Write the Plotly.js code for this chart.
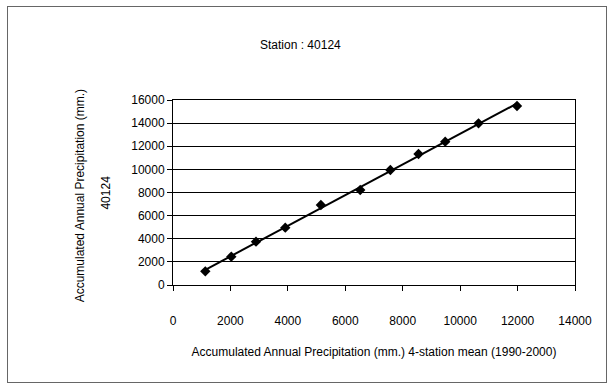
<!DOCTYPE html>
<html><head><meta charset="utf-8">
<script src="https://cdn.plot.ly/plotly-3.0.1.min.js"></script>
<style>html,body{margin:0;padding:0;background:#fff}#wrap{position:relative;width:613px;height:387px}
#frame{position:absolute;left:7px;top:6px;width:598px;height:375px;border:1px solid #666;pointer-events:none}</style>
</head><body><div id="wrap"><div id="chart" style="width:613px;height:387px"></div><div id="frame"></div></div>
<script>
const meanPrecip = [1125, 2030, 2890, 3910, 5150, 6520, 7570, 8550, 9480, 10640, 11980];
const stationPrecip = [1180, 2450, 3750, 4960, 6920, 8220, 9950, 11330, 12400, 13980, 15480];
const xTicks = [0, 2000, 4000, 6000, 8000, 10000, 12000, 14000];
const yTicks = [0, 2000, 4000, 6000, 8000, 10000, 12000, 14000, 16000];

// linear trend line from the data
const n = meanPrecip.length;
const mx = meanPrecip.reduce((a,b)=>a+b,0)/n, my = stationPrecip.reduce((a,b)=>a+b,0)/n;
let sxy=0, sxx=0;
for (let i=0;i<n;i++){sxy+=(meanPrecip[i]-mx)*(stationPrecip[i]-my);sxx+=(meanPrecip[i]-mx)**2;}
const slope=sxy/sxx, icpt=my-slope*mx;
const trendX=[Math.min(...meanPrecip), Math.max(...meanPrecip)];
const trendY=trendX.map(v=>icpt+slope*v);

const font = {family:'Liberation Sans, Arial, sans-serif', size:12, color:'#000'};
const data = [
  {x:trendX, y:trendY, mode:'lines', line:{color:'#000', width:2}, hoverinfo:'skip'},
  {x:meanPrecip, y:stationPrecip, mode:'markers', marker:{symbol:'diamond', size:8, color:'#000'}}
];
const layout = {
  width:613, height:387, showlegend:false, font:font,
  paper_bgcolor:'#fff', plot_bgcolor:'#fff',
  margin:{l:173, r:38, t:100, b:102},
  title:{text:'Station : 40124', x:0.49, xanchor:'center', y:0.884, yanchor:'middle', font:font},
  xaxis:{range:[0,14000], tickvals:xTicks, ticktext:xTicks.map(String), showgrid:false, zeroline:false,
    showline:true, linecolor:'#000', linewidth:1, mirror:true, ticks:'outside', ticklen:5, tickcolor:'#000',
    ticklabelstandoff:20, tickfont:font,
    title:{text:'Accumulated Annual Precipitation (mm.) 4-station mean (1990-2000)', font:font, standoff:20}},
  yaxis:{range:[0,16000], tickvals:yTicks, ticktext:yTicks.map(String), showgrid:true, gridcolor:'#000', gridwidth:1,
    zeroline:false, showline:true, linecolor:'#000', linewidth:1, mirror:true, ticks:'outside', ticklen:5, tickcolor:'#000',
    tickfont:font},
  annotations:[
    {text:'Accumulated Annual Precipitation (mm.)', xref:'paper', yref:'paper', x:-0.231, y:0.48, textangle:-90,
     showarrow:false, font:font, xanchor:'center', yanchor:'middle'},
    {text:'40124', xref:'paper', yref:'paper', x:-0.169, y:0.5, textangle:-90,
     showarrow:false, font:font, xanchor:'center', yanchor:'middle'}
  ]
};
Plotly.newPlot('chart', data, layout, {staticPlot:true});
</script></body></html>
